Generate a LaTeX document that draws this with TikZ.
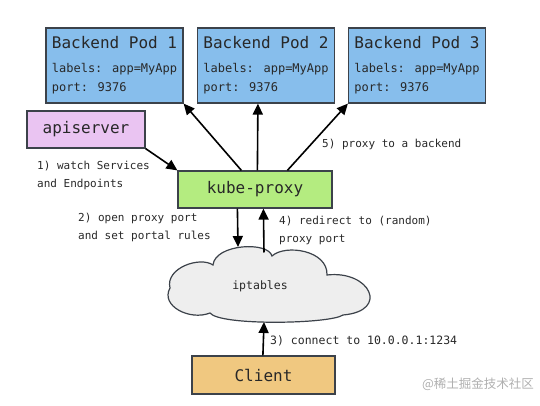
\documentclass[tikz,border=0pt]{standalone}
\usepackage{fontspec}
\setmainfont{DejaVu Sans Mono}
\newfontfamily\cjkfont{Noto Sans CJK SC}
\usetikzlibrary{arrows.meta,calc}
\definecolor{podblue}{RGB}{135,190,236}
\definecolor{apipink}{RGB}{234,196,242}
\definecolor{kpgreen}{RGB}{180,236,128}
\definecolor{clientor}{RGB}{240,200,128}
\definecolor{cloudfill}{RGB}{238,238,238}
\definecolor{edgegray}{RGB}{60,66,74}
\definecolor{txt}{RGB}{40,40,40}
\tikzset{
  box/.style={draw=edgegray, line width=1.2pt, inner sep=0pt, text=txt},
  pod/.style={box, fill=podblue, minimum width=137pt, minimum height=75pt, align=left,
    font=\fontsize{12}{19}\selectfont},
  bigbox/.style={box, minimum height=37pt, font=\fontsize{16}{19}\selectfont},
  lbl/.style={anchor=north west, inner sep=0pt, align=left, text=txt,
    font=\fontsize{11}{17.5}\selectfont},
  arr/.style={line width=1.6pt, -{Triangle[length=11pt,width=10pt]}},
}
\begin{document}
\begin{tikzpicture}[x=1pt,y=1pt]
\useasboundingbox (0,0) rectangle (540,406);
% pods
\node[pod] (p1) at (114.5,340.5) {{\fontsize{16}{19}\selectfont Backend Pod 1}\\[5pt]labels: app=MyApp\\port: 9376};
\node[pod] (p2) at (266,340.5) {{\fontsize{16}{19}\selectfont Backend Pod 2}\\[5pt]labels: app=MyApp\\port: 9376};
\node[pod] (p3) at (417,340.5) {{\fontsize{16}{19}\selectfont Backend Pod 3}\\[5pt]labels: app=MyApp\\port: 9376};
% apiserver, kube-proxy, client
\node[bigbox, fill=apipink, minimum width=118pt] (api) at (86,276.5) {apiserver};
\node[bigbox, fill=kpgreen, minimum width=154pt] (kp) at (255,216.5) {kube-proxy};
\node[bigbox, fill=clientor, minimum width=143pt, minimum height=38pt] (client) at (263.5,31) {Client};
% cloud
\draw[draw=edgegray, line width=1.2pt, fill=cloudfill]
  (170,118) .. controls (165,138) and (200,150) .. (213,141)
  .. controls (215,162) and (268,165) .. (272,150)
  .. controls (285,162) and (328,156) .. (327,131)
  .. controls (370,136) and (390,95) .. (343,91)
  .. controls (330,82) and (220,80) .. (210,93)
  .. controls (190,85) and (160,100) .. cycle;
\node[inner sep=0pt, text=txt, font=\fontsize{11.5}{14}\selectfont] (ipt) at (260,120) {iptables};
\coordinate (cin) at (238,159);
\coordinate (cout) at (264,153.5);
\coordinate (cbot) at (264,84);
% arrows
\draw[arr] (api.south east) -- (kp.north west);
\draw[arr] ($(kp.north west)+(64,0)$) -- (p1.south east);
\draw[arr] ($(kp.north west)+(80,0)$) -- ($(p2.south west)+(61,0)$);
\draw[arr] ($(kp.north west)+(110,0)$) -- (p3.south west);
\draw[arr] ($(kp.south west)+(60,0)$) -- (cin);
\draw[arr] (cout) -- ($(kp.south west)+(86,0)$);
\draw[arr] ($(client.north west)+(71.5,0)$) -- (cbot);
% labels
\node[lbl] (l1) at (37,245) {1) watch Services\\and Endpoints};
\node[lbl] (l2) at (78,193) {2) open proxy port\\and set portal rules};
\node[lbl] (l4) at (279,190) {4) redirect to (random)\\proxy port};
\node[lbl] (l5) at (322,267) {5) proxy to a backend};
\node[lbl, font=\fontsize{11.5}{17.5}\selectfont] (l3) at (270,70) {3) connect to 10.0.0.1:1234};
% watermark
\node[inner sep=0pt, text={rgb,255:red,175;green,175;blue,175}, font=\cjkfont\fontsize{12.5}{14}\selectfont] (wm) at (478,22) {@稀土掘金技术社区};
\end{tikzpicture}
\end{document}
